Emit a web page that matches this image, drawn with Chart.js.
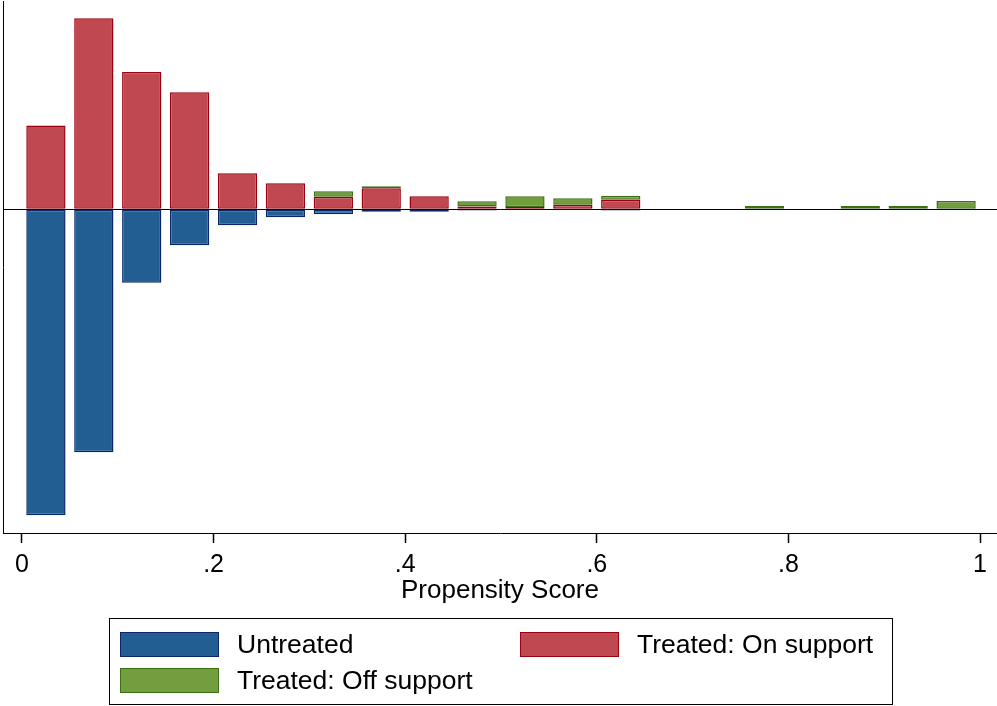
<!DOCTYPE html>
<html>
<head>
<meta charset="utf-8">
<script src="https://cdn.jsdelivr.net/npm/chart.js@4.4.1/dist/chart.umd.min.js"></script>
<style>
  html, body { margin: 0; padding: 0; background: #fff; }
  #wrap { position: relative; width: 997px; height: 706px; overflow: hidden; }
  #c { position: absolute; left: 0; top: 0; }
  #legend {
    position: absolute; left: 109px; top: 618px; width: 784px; height: 87px;
    border: 1px solid #000; box-sizing: border-box;
    font-family: "Liberation Sans", Arial, sans-serif; font-size: 26.5px; color: #000;
  }
  .item { position: absolute; height: 25px; display: flex; align-items: center; white-space: nowrap; }
  .key { width: 99px; height: 25px; box-sizing: border-box; border: 1.5px solid; margin-right: 18px; flex: none; }
</style>
</head>
<body>
<div id="wrap">
  <canvas id="c" width="997" height="706"></canvas>
  <div id="legend"></div>
</div>
<script>
// Histogram bins of the propensity score (bin centres, width 0.05)
const binCenters = [0.025, 0.075, 0.125, 0.175, 0.225, 0.275, 0.325, 0.375, 0.425, 0.475,
                    0.525, 0.575, 0.625, 0.675, 0.725, 0.775, 0.825, 0.875, 0.925, 0.975];

// Frequencies per bin; untreated are mirrored below the axis
const untreated  = [185.5, 147.3, 44.5, 21.8, 9.7, 4.8, 3.0, 1.5, 1.5, 0.8,
                    null, null, 0.8, null, null, null, null, null, null, null];
const treatedOn  = [50.7, 115.8, 83.2, 70.9, 21.8, 15.8, 7.6, 12.7, 7.9, 1.6,
                    1.4, 2.8, 5.8, null, null, null, null, null, null, null];
const treatedOff = [null, null, null, null, null, null, 3.3, 1.2, null, 3.3,
                    6.5, 3.9, 2.4, null, null, 2.0, null, 2.0, 2.0, 5.0];

const seriesNames = ['Untreated', 'Treated: On support', 'Treated: Off support'];

const tickValues = [0, 0.2, 0.4, 0.6, 0.8, 1];
const tickLabels = ['0', '.2', '.4', '.6', '.8', '1'];
const axisTitle = 'Propensity Score';

const fills   = ['#235e93', '#c04850', '#739e3e'];
const borders = ['#0a2868', '#9b0010', '#3c6e14'];

const toPoints = (vals, sign) => binCenters.map((x, i) =>
  ({ x: x, y: vals[i] === null ? null : sign * vals[i] }));

const FONT = '"Liberation Sans", Arial, sans-serif';

const data = {
  datasets: [
    { label: seriesNames[0], data: toPoints(untreated, -1) },
    { label: seriesNames[1], data: toPoints(treatedOn, 1) },
    { label: seriesNames[2], data: toPoints(treatedOff, 1) }
  ].map((d, i) => Object.assign(d, {
    backgroundColor: fills[i],
    borderColor: borders[i],
    borderWidth: 1.5,
    borderSkipped: false,
    barPercentage: 0.82,
    categoryPercentage: 1.0
  }))
};

new Chart(document.getElementById('c'), {
  type: 'bar',
  data: data,
  options: {
    responsive: false,
    animation: false,
    events: [],
    layout: { padding: { left: 3, right: 0, top: 1, bottom: 94 } },
    plugins: { legend: { display: false }, tooltip: { enabled: false } },
    scales: {
      x: {
        type: 'linear',
        stacked: true,
        offset: false,
        min: -0.0198,
        max: 1.0177,
        afterBuildTicks: (s) => { s.ticks = tickValues.map(v => ({ value: v })); },
        ticks: {
          color: '#000',
          padding: 10,
          font: { family: FONT, size: 25, lineHeight: 1 },
          maxRotation: 0,
          autoSkip: false,
          callback: (v) => tickLabels[tickValues.indexOf(v)]
        },
        grid: {
          offset: false,
          drawOnChartArea: false,
          drawTicks: true,
          tickLength: 10,
          color: '#000',
          tickColor: '#000',
          tickWidth: 1.5
        },
        border: { display: true, color: '#000', width: 1 },
        title: {
          display: true,
          text: axisTitle,
          color: '#000',
          padding: { top: -10, bottom: 8 },
          font: { family: FONT, size: 26, lineHeight: 1 }
        }
      },
      y: {
        stacked: true,
        min: -196.2,
        max: 126.2,
        afterBuildTicks: (s) => { s.ticks = [{ value: 0 }]; },
        ticks: { display: false },
        grid: {
          drawTicks: false,
          color: '#000',
          lineWidth: 1
        },
        border: { display: true, color: '#000', width: 1 }
      }
    }
  }
});

// Boxed legend below the plot
const legendEl = document.getElementById('legend');
const legendPos = [[10, 13], [410, 13], [10, 49]];
seriesNames.forEach((name, i) => {
  const item = document.createElement('div');
  item.className = 'item';
  item.style.left = legendPos[i][0] + 'px';
  item.style.top = legendPos[i][1] + 'px';
  const key = document.createElement('span');
  key.className = 'key';
  key.style.background = fills[i];
  key.style.borderColor = borders[i];
  const txt = document.createElement('span');
  txt.textContent = name;
  item.appendChild(key);
  item.appendChild(txt);
  legendEl.appendChild(item);
});
</script>
</body>
</html>
